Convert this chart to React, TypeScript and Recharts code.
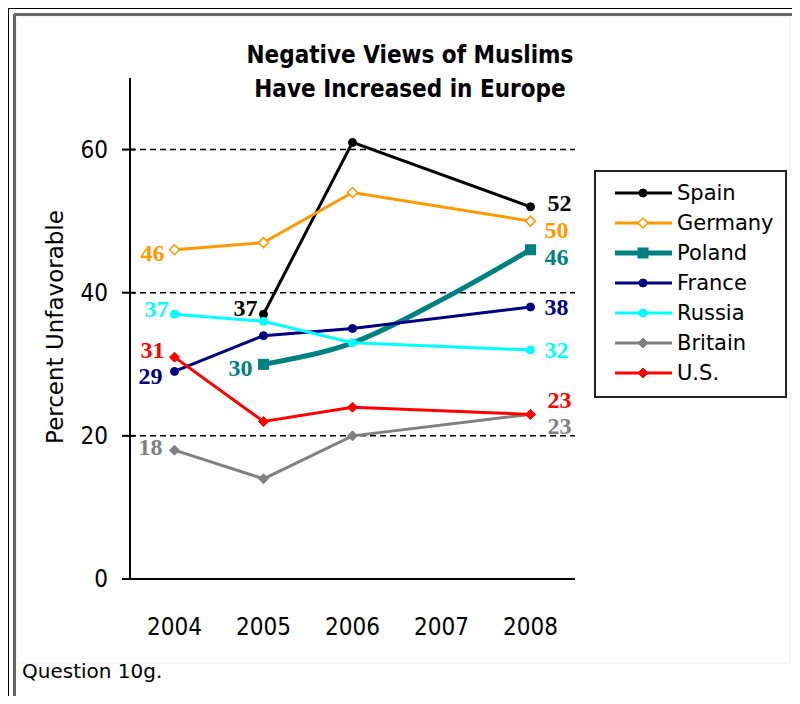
import React from "react";
import { LineChart, Line, XAxis, YAxis, CartesianGrid } from "recharts";

const YEARS = [2004, 2005, 2006, 2007, 2008];
const SPAIN = [null, 37, 61, null, 52];
const GERMANY = [46, 47, 54, null, 50];
const POLAND = [null, 30, 33, 39, 46];
const FRANCE = [29, 34, 35, null, 38];
const RUSSIA = [37, 36, 33, null, 32];
const BRITAIN = [18, 14, 20, null, 23];
const US = [31, 22, 24, null, 23];
const Y_TICKS = [0, 20, 40, 60];
const GRID_VALUES = [20, 40, 60];

const NARROW = "'Liberation Sans Narrow', 'DejaVu Sans Condensed', sans-serif";
const SANS = "'DejaVu Sans', Verdana, sans-serif";
const SERIF = "'Liberation Serif', 'Times New Roman', serif";
const TITLE = "'DejaVu Sans Condensed', 'DejaVu Sans', sans-serif";

const W = 800;
const H = 704;
const PLOT_LEFT = 130;
const PLOT_RIGHT = 575;
const PLOT_TOP = 78;
const PLOT_BOTTOM = 579;

type Marker = "circle" | "diamond" | "square";

type Series = {
  key: string;
  name: string;
  values: (number | null)[];
  color: string;
  width: number;
  marker: Marker;
  size: number;
  hollow?: boolean;
  endsOnly?: boolean;
  curve?: "linear" | "monotone";
  first: [number, number];
  last: [number, number];
};

const SERIES: Series[] = [
  { key: "spain", name: "Spain", values: SPAIN, color: "#000000", width: 3, marker: "circle", size: 4, first: [-6, -6], last: [17, -4] },
  { key: "germany", name: "Germany", values: GERMANY, color: "#FF9900", width: 3, marker: "diamond", size: 5, hollow: true, first: [-10, 3], last: [14, 9] },
  { key: "poland", name: "Poland", values: POLAND, color: "#008080", width: 5, marker: "square", size: 5, endsOnly: true, curve: "monotone", first: [-11, 4], last: [14, 7] },
  { key: "france", name: "France", values: FRANCE, color: "#000080", width: 3, marker: "circle", size: 4, first: [-12, 5], last: [14, 0] },
  { key: "russia", name: "Russia", values: RUSSIA, color: "#00FFFF", width: 3, marker: "circle", size: 4, first: [-6, -5], last: [14, 0] },
  { key: "britain", name: "Britain", values: BRITAIN, color: "#808080", width: 3, marker: "diamond", size: 5, first: [-12, -3], last: [17, 12] },
  { key: "us", name: "U.S.", values: US, color: "#FF0000", width: 3, marker: "diamond", size: 5, first: [-10, -7], last: [17, -14] },
];

const rows = YEARS.map((year, i) => {
  const row: Record<string, number | null> = { year };
  for (const s of SERIES) row[s.key] = s.values[i];
  return row;
});

function drawMarker(s: Series, cx: number, cy: number) {
  const r = s.size;
  const fill = s.hollow ? "#fff" : s.color;
  if (s.marker === "circle") return <circle cx={cx} cy={cy} r={r} fill={fill} stroke={s.color} strokeWidth={1} />;
  if (s.marker === "square")
    return <rect x={cx - r} y={cy - r} width={r * 2} height={r * 2} fill={fill} stroke={s.color} strokeWidth={1} />;
  return (
    <polygon
      points={`${cx},${cy - r} ${cx + r},${cy} ${cx},${cy + r} ${cx - r},${cy}`}
      fill={fill}
      stroke={s.color}
      strokeWidth={s.hollow ? 1.5 : 1}
    />
  );
}

function makeDot(s: Series) {
  const first = s.values.findIndex((v) => v != null);
  let last = s.values.length - 1;
  while (last > 0 && s.values[last] == null) last--;
  return (props: any) => {
    const { cx, cy, index } = props;
    const k = `${s.key}-dot-${index}`;
    if (cx == null || cy == null || s.values[index] == null) return <g key={k} />;
    const showMark = !s.endsOnly || index === first || index === last;
    const isFirst = index === first;
    const isLast = index === last;
    const off = isFirst ? s.first : s.last;
    return (
      <g key={k}>
        {showMark && drawMarker(s, cx, cy)}
        {(isFirst || isLast) && (
          <text
            x={cx + off[0]}
            y={cy + off[1]}
            textAnchor={isFirst ? "end" : "start"}
            dominantBaseline="central"
            fill={s.color}
            fontFamily={SERIF}
            fontWeight="bold"
            fontSize={24}
          >
            {s.values[index]}
          </text>
        )}
      </g>
    );
  };
}

function YTick(props: any) {
  const { y, payload } = props;
  return (
    <g>
      <line x1={PLOT_LEFT - 8} x2={PLOT_LEFT + 5} y1={y} y2={y} stroke="#000" strokeWidth={2} />
      <text x={PLOT_LEFT - 22} y={y} textAnchor="end" dominantBaseline="central" fill="#000" fontFamily={NARROW} fontSize={24}>
        {payload.value}
      </text>
    </g>
  );
}

function Legend() {
  return (
    <g>
      <rect x={595} y={171} width={191} height={226} fill="#fff" stroke="#222" strokeWidth={2} />
      {SERIES.map((s, i) => {
        const y = 193 + i * 30;
        return (
          <g key={s.key}>
            <line x1={615} x2={672} y1={y} y2={y} stroke={s.color} strokeWidth={s.width} />
            {drawMarker(s, 643, y)}
            <text x={677} y={y} dominantBaseline="central" fontFamily={SANS} fontSize={21} fill="#000">
              {s.name}
            </text>
          </g>
        );
      })}
    </g>
  );
}

export default function App() {
  return (
    <div style={{ position: "relative", width: W, height: H, margin: -8, background: "#fff", overflow: "hidden" }}>
      <svg width={W} height={H} style={{ position: "absolute", left: 0, top: 0 }}>
        <rect x={17} y={17} width={773} height={646} fill="none" stroke="#f0f0f0" strokeWidth={1} />
        <line x1={7} x2={W} y1={8} y2={8} stroke="#000" strokeWidth={2} />
        <line x1={8} x2={8} y1={7} y2={H} stroke="#000" strokeWidth={2} />
        <line x1={14} x2={W} y1={14.5} y2={14.5} stroke="#666" strokeWidth={3} />
        <line x1={14.5} x2={14.5} y1={14} y2={H} stroke="#666" strokeWidth={3} />
        <line x1={16} x2={W} y1={702} y2={702} stroke="#999" strokeWidth={2} />
        <text x={410} y={63} textAnchor="middle" fontFamily={TITLE} fontWeight="bold" fontSize={24} fill="#000" style={{ fontStretch: "condensed" }}>
          Negative Views of Muslims
        </text>
        <text x={410} y={97} textAnchor="middle" fontFamily={TITLE} fontWeight="bold" fontSize={24} fill="#000" style={{ fontStretch: "condensed" }}>
          Have Increased in Europe
        </text>
        <text x={63} y={327} transform="rotate(-90 63 327)" textAnchor="middle" fontFamily={SANS} fontSize={23} fill="#000">
          Percent Unfavorable
        </text>
        <text x={22} y={678} fontFamily={SANS} fontSize={20} fill="#000">
          Question 10g.
        </text>
        <Legend />
      </svg>
      <div style={{ position: "absolute", left: 0, top: 0 }}>
        <LineChart
          width={W}
          height={H}
          data={rows}
          margin={{ top: PLOT_TOP, right: W - PLOT_RIGHT, bottom: H - PLOT_BOTTOM - 60, left: PLOT_LEFT - 60 }}
        >
          <CartesianGrid
            horizontal
            vertical={false}
            horizontalValues={GRID_VALUES}
            stroke="#000"
            strokeDasharray="6 4"
            strokeWidth={1.5}
          />
          <XAxis
            dataKey="year"
            type="number"
            domain={[2003.5, 2008.5]}
            ticks={YEARS}
            height={60}
            tickLine={false}
            tickSize={6}
            tickMargin={33}
            axisLine={{ stroke: "#000", strokeWidth: 2 }}
            tick={{ fill: "#000", fontSize: 24, fontFamily: NARROW }}
          />
          <YAxis
            type="number"
            domain={[0, 70]}
            ticks={Y_TICKS}
            width={60}
            tickLine={false}
            axisLine={{ stroke: "#000", strokeWidth: 2 }}
            tick={<YTick />}
          />
          {SERIES.map((s) => (
            <Line
              key={s.key}
              dataKey={s.key}
              type={s.curve ?? "linear"}
              stroke={s.color}
              strokeWidth={s.width}
              connectNulls
              dot={makeDot(s)}
              activeDot={false}
              isAnimationActive={false}
            />
          ))}
        </LineChart>
      </div>
    </div>
  );
}
